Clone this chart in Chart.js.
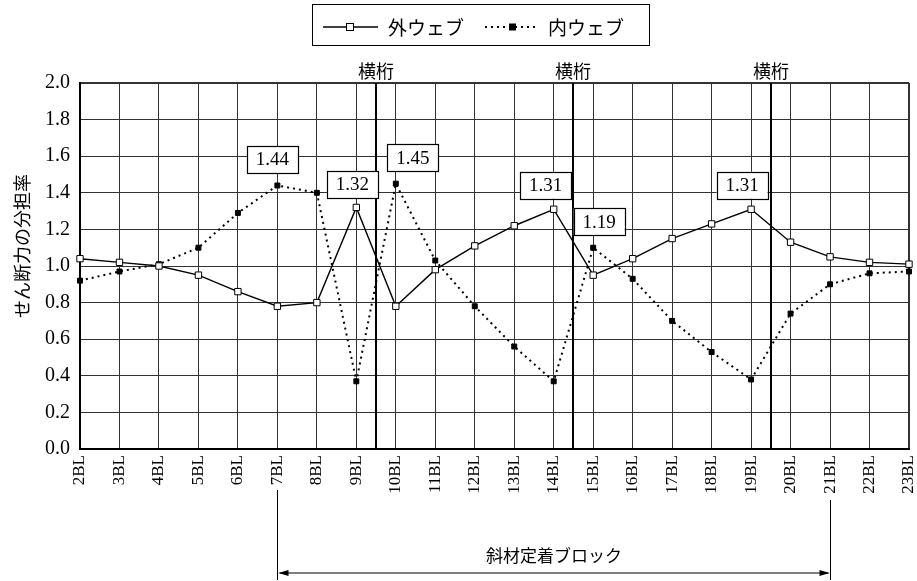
<!DOCTYPE html>
<html lang="ja">
<head>
<meta charset="UTF-8">
<title>せん断力の分担率</title>
<script src="https://cdn.jsdelivr.net/npm/chart.js"></script>
<style>
  body { margin: 0; background: #fff; }
  #wrap { width: 917px; height: 581px; }
</style>
</head>
<body>
<div id="wrap"><canvas id="grafico" width="917" height="581"></canvas></div>
<script>
// データ
const blocks = ['2BL','3BL','4BL','5BL','6BL','7BL','8BL','9BL','10BL','11BL','12BL','13BL',
                '14BL','15BL','16BL','17BL','18BL','19BL','20BL','21BL','22BL','23BL'];
const outerWeb = [1.04, 1.02, 1.00, 0.95, 0.86, 0.78, 0.80, 1.32, 0.78, 0.98, 1.11, 1.22,
                  1.31, 0.95, 1.04, 1.15, 1.23, 1.31, 1.13, 1.05, 1.02, 1.01];
const innerWeb = [0.92, 0.97, 1.01, 1.10, 1.29, 1.44, 1.40, 0.37, 1.45, 1.03, 0.78, 0.56,
                  0.37, 1.10, 0.93, 0.70, 0.53, 0.38, 0.74, 0.90, 0.96, 0.97];
const yTicks = [0, 0.2, 0.4, 0.6, 0.8, 1.0, 1.2, 1.4, 1.6, 1.8, 2.0];

// 横桁の位置（このブロックの直後）
const beamAfter = ['9BL', '14BL', '19BL'];
const beamLabel = '横桁';

// 数値ラベル
const noteBlocks = ['7BL', '9BL', '10BL', '14BL', '15BL', '19BL'];
const noteTexts  = ['1.44', '1.32', '1.45', '1.31', '1.19', '1.31'];
const noteSeries = [1, 0, 1, 0, 1, 0];   // 0: 外ウェブ, 1: 内ウェブ

// 斜材定着ブロック範囲
const anchorFrom = '7BL';
const anchorTo = '21BL';
const anchorLabel = '斜材定着ブロック';

const SERIF = "'Liberation Serif', 'DejaVu Serif', serif";
const JP = "'Noto Sans CJK JP', sans-serif";

// ラベル枠のずらし量 (px)
const noteShift = [[-5, -26], [-4, -23], [17, -26], [-8, -24], [6, -26], [-9, -24]];

const extras = {
  id: 'extras',
  beforeDatasetsDraw(chart) {
    const { ctx, chartArea, scales: { x } } = chart;
    ctx.save();
    ctx.strokeStyle = '#000';
    ctx.lineWidth = 2;
    ctx.fillStyle = '#000';
    ctx.font = '18px ' + JP;
    ctx.textAlign = 'center';
    ctx.textBaseline = 'middle';
    beamAfter.forEach(b => {
      const px = Math.round(x.getPixelForValue(blocks.indexOf(b) + 0.5));
      ctx.beginPath();
      ctx.moveTo(px, chartArea.top);
      ctx.lineTo(px, chartArea.bottom);
      ctx.stroke();
      ctx.fillText(beamLabel, px, chartArea.top - 12);
    });
    ctx.restore();
  },
  afterDatasetsDraw(chart) {
    const { ctx } = chart;
    ctx.save();
    ctx.font = '19px ' + SERIF;
    ctx.textAlign = 'center';
    ctx.textBaseline = 'middle';
    noteBlocks.forEach((b, i) => {
      const pt = chart.getDatasetMeta(noteSeries[i]).data[blocks.indexOf(b)];
      const cx = pt.x + noteShift[i][0];
      const cy = pt.y + noteShift[i][1];
      const w = 51, h = 27;
      ctx.fillStyle = '#fff';
      ctx.fillRect(cx - w / 2, cy - h / 2, w, h);
      ctx.strokeStyle = '#000';
      ctx.lineWidth = 1.2;
      ctx.strokeRect(Math.round(cx - w / 2) + 0.5, Math.round(cy - h / 2) + 0.5, w, h);
      ctx.fillStyle = '#000';
      ctx.fillText(noteTexts[i], cx, cy + 1);
    });
    ctx.restore();
  },
  afterDraw(chart) {
    const { ctx, scales: { x } } = chart;
    ctx.save();
    ctx.strokeStyle = '#000';
    ctx.fillStyle = '#000';

    // 凡例
    ctx.lineWidth = 1;
    ctx.strokeRect(312.5, 4.5, 337, 41);
    const ly = 27;
    ctx.lineWidth = 1.3;
    ctx.beginPath(); ctx.moveTo(323, ly); ctx.lineTo(378, ly); ctx.stroke();
    ctx.fillStyle = '#fff';
    ctx.fillRect(346, ly - 4, 8, 8);
    ctx.lineWidth = 1;
    ctx.strokeRect(346.5, ly - 3.5, 7, 7);
    ctx.setLineDash([2, 4]);
    ctx.lineWidth = 2;
    ctx.beginPath(); ctx.moveTo(485, ly); ctx.lineTo(538, ly); ctx.stroke();
    ctx.setLineDash([]);
    ctx.fillStyle = '#000';
    ctx.fillRect(509, ly - 3.5, 7, 7);
    ctx.font = '19px ' + JP;
    ctx.textAlign = 'left';
    ctx.textBaseline = 'middle';
    ctx.fillText(chart.data.datasets[0].label, 388, ly + 1);
    ctx.fillText(chart.data.datasets[1].label, 548, ly + 1);

    // 縦軸タイトル
    ctx.save();
    ctx.translate(22, 246);
    ctx.rotate(-Math.PI / 2);
    ctx.textAlign = 'center';
    ctx.textBaseline = 'middle';
    ctx.font = '18px ' + JP;
    ctx.fillText('せん断力の分担率', 0, 0);
    ctx.restore();

    // 斜材定着ブロック
    const x1 = Math.round(x.getPixelForValue(blocks.indexOf(anchorFrom))) + 0.5;
    const x2 = Math.round(x.getPixelForValue(blocks.indexOf(anchorTo))) + 0.5;
    const ay = 573;
    ctx.lineWidth = 1;
    ctx.beginPath();
    ctx.moveTo(x1, 490); ctx.lineTo(x1, 580);
    ctx.moveTo(x2, 500); ctx.lineTo(x2, 580);
    ctx.moveTo(x1 + 2, ay); ctx.lineTo(x2 - 2, ay);
    ctx.stroke();
    ctx.beginPath();
    ctx.moveTo(x1 + 1, ay); ctx.lineTo(x1 + 11, ay - 3); ctx.lineTo(x1 + 11, ay + 3); ctx.closePath();
    ctx.moveTo(x2 - 1, ay); ctx.lineTo(x2 - 11, ay - 3); ctx.lineTo(x2 - 11, ay + 3); ctx.closePath();
    ctx.fill();
    ctx.font = '17px ' + JP;
    ctx.textAlign = 'center';
    ctx.textBaseline = 'middle';
    ctx.fillText(anchorLabel, (x1 + x2) / 2, 556);
    ctx.restore();
  }
};

const ctx = document.getElementById('grafico').getContext('2d');
new Chart(ctx, {
  type: 'line',
  data: {
    labels: blocks,
    datasets: [
      {
        label: '外ウェブ',
        data: outerWeb,
        borderColor: '#000',
        borderWidth: 1.4,
        pointStyle: 'rect',
        pointRadius: 4.5,
        pointBackgroundColor: '#fff',
        pointBorderColor: '#000',
        pointBorderWidth: 1,
        tension: 0
      },
      {
        label: '内ウェブ',
        data: innerWeb,
        borderColor: '#000',
        borderWidth: 2,
        borderDash: [2, 4],
        pointStyle: 'rect',
        pointRadius: 3.5,
        pointBackgroundColor: '#000',
        pointBorderColor: '#000',
        pointBorderWidth: 1,
        tension: 0
      }
    ]
  },
  options: {
    responsive: false,
    animation: false,
    layout: { padding: { top: 83, right: 8, left: 0, bottom: 0 } },
    plugins: {
      legend: { display: false },
      tooltip: { enabled: false }
    },
    scales: {
      x: {
        offset: false,
        grid: {
          color: '#333',
          lineWidth: c => (c.index === 0 || c.index === blocks.length - 1) ? 2 : 1,
          drawTicks: false
        },
        border: { color: '#000', width: 2 },
        ticks: {
          color: '#000',
          font: { family: SERIF, size: 17 },
          minRotation: 90,
          maxRotation: 90,
          autoSkip: false,
          padding: 6
        },
        afterFit: s => { s.height = 132; s.paddingLeft = 0; s.paddingRight = 0; }
      },
      y: {
        min: 0,
        max: 2,
        afterBuildTicks: s => { s.ticks = yTicks.map(v => ({ value: v })); },
        grid: {
          color: '#333',
          lineWidth: c => (c.tick && c.tick.value === 2) ? 2 : 1,
          drawTicks: false
        },
        border: { color: '#000', width: 2 },
        ticks: {
          color: '#000',
          font: { family: SERIF, size: 20 },
          padding: 10,
          callback: v => Number(v).toFixed(1)
        },
        afterFit: s => { s.width = 80; s.paddingTop = 0; s.paddingBottom = 0; }
      }
    }
  },
  plugins: [extras]
});
</script>
</body>
</html>
